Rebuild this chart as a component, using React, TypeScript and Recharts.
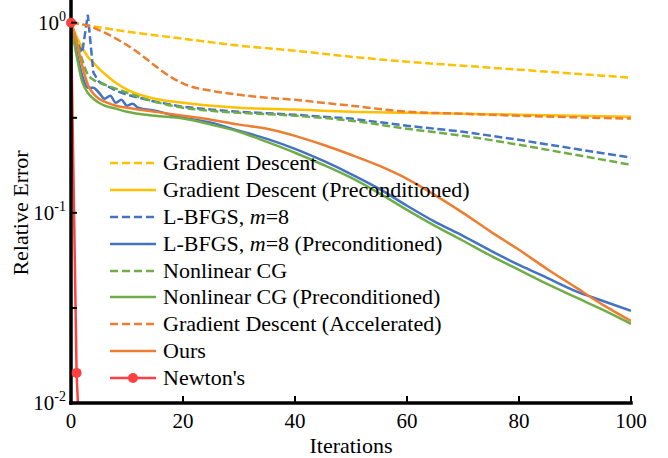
import React from 'react';
import { LineChart, Line, XAxis, YAxis, Legend } from 'recharts';

// ---- data (iterations and relative error) ----
const GD_X = [0, 5, 10, 20, 30, 40, 50, 60, 70, 80, 90, 100];
const GD_Y = [1, 0.945, 0.897, 0.824, 0.757, 0.712, 0.662, 0.623, 0.594, 0.566, 0.539, 0.514];

const GDP_X = [0, 1, 2, 3, 4, 5, 6, 8, 10, 15, 20, 25, 30, 40, 50, 60, 70, 80, 90, 100];
const GDP_Y = [1, 0.844, 0.739, 0.662, 0.616, 0.573, 0.539, 0.483, 0.444, 0.398, 0.379, 0.366, 0.357, 0.349, 0.34, 0.336, 0.332, 0.328, 0.324, 0.32];

const LB_X = [0, 1, 2, 3, 4, 5, 6, 8, 10, 15, 20, 25, 30, 40, 50, 60, 70, 80, 90, 100];
const LB_Y = [1, 0.794, 0.695, 1.1, 0.546, 0.489, 0.472, 0.439, 0.418, 0.384, 0.361, 0.349, 0.34, 0.328, 0.313, 0.287, 0.267, 0.242, 0.217, 0.195];

const LBP_X = [0, 1, 2, 3, 4, 5, 6, 7, 8, 9, 10, 11, 12, 15, 20, 25, 30, 35, 40, 45, 50, 55, 60, 65, 70, 75, 80, 85, 90, 95, 100];
const LBP_Y = [1, 0.704, 0.526, 0.455, 0.455, 0.428, 0.398, 0.413, 0.379, 0.393, 0.366, 0.375, 0.357, 0.344, 0.316, 0.298, 0.27, 0.245, 0.217, 0.188, 0.16, 0.134, 0.109, 0.0897, 0.0757, 0.0631, 0.0532, 0.0455, 0.0389, 0.0344, 0.0305];

const NCG_X = [0, 1, 2, 3, 4, 5, 6, 8, 10, 15, 20, 25, 30, 40, 50, 60, 70, 80, 90, 100];
const NCG_Y = [1, 0.794, 0.639, 0.533, 0.501, 0.483, 0.472, 0.45, 0.428, 0.384, 0.357, 0.344, 0.336, 0.324, 0.305, 0.277, 0.254, 0.228, 0.202, 0.179];

const NCGP_X = [0, 1, 2, 3, 4, 5, 6, 8, 10, 15, 20, 25, 30, 35, 40, 45, 50, 55, 60, 65, 70, 75, 80, 85, 90, 95, 100];
const NCGP_Y = [1, 0.67, 0.489, 0.428, 0.398, 0.379, 0.366, 0.353, 0.34, 0.324, 0.313, 0.291, 0.267, 0.236, 0.207, 0.179, 0.153, 0.127, 0.1037, 0.0854, 0.0713, 0.0594, 0.0501, 0.0423, 0.0361, 0.0309, 0.0261];

const GDA_X = [0, 3, 6, 9, 12, 15, 18, 21, 25, 30, 35, 40, 45, 50, 60, 70, 80, 90, 100];
const GDA_Y = [1, 0.964, 0.886, 0.794, 0.695, 0.594, 0.514, 0.466, 0.439, 0.418, 0.403, 0.393, 0.379, 0.366, 0.34, 0.332, 0.324, 0.318, 0.313];

const OURS_X = [0, 1, 2, 3, 4, 5, 6, 8, 10, 15, 20, 25, 30, 35, 40, 45, 50, 55, 60, 65, 70, 75, 80, 85, 90, 95, 100];
const OURS_Y = [1, 0.794, 0.594, 0.472, 0.423, 0.398, 0.384, 0.366, 0.357, 0.34, 0.324, 0.309, 0.291, 0.277, 0.254, 0.228, 0.202, 0.177, 0.151, 0.124, 0.1, 0.0794, 0.0639, 0.0507, 0.0408, 0.0328, 0.027];

const NEWTON_X = [0, 1, 2];
const NEWTON_Y = [1, 0.0144, 0.003];

const X_TICKS = [0, 20, 40, 60, 80, 100];
const Y_TICKS = [0.01, 0.0316, 0.1, 0.316, 1];

const FONT = '"Liberation Serif", "Times New Roman", serif';

const toRows = (xs: number[], ys: number[]) => xs.map((x, i) => ({ x, y: ys[i] }));

type Series = {
  key: string;
  label: React.ReactNode;
  xs: number[];
  ys: number[];
  color: string;
  dashed: boolean;
  curve: 'linear' | 'monotone';
  marker?: boolean;
};

const SERIES: Series[] = [
  { key: 'gd', label: 'Gradient Descent', xs: GD_X, ys: GD_Y, color: '#FFC000', dashed: true, curve: 'monotone' },
  { key: 'gdp', label: 'Gradient Descent (Preconditioned)', xs: GDP_X, ys: GDP_Y, color: '#FFC000', dashed: false, curve: 'monotone' },
  { key: 'lb', label: <>L-BFGS, <i>m</i>=8</>, xs: LB_X, ys: LB_Y, color: '#4472C4', dashed: true, curve: 'linear' },
  { key: 'lbp', label: <>L-BFGS, <i>m</i>=8 (Preconditioned)</>, xs: LBP_X, ys: LBP_Y, color: '#4472C4', dashed: false, curve: 'monotone' },
  { key: 'ncg', label: 'Nonlinear CG', xs: NCG_X, ys: NCG_Y, color: '#70AD47', dashed: true, curve: 'monotone' },
  { key: 'ncgp', label: 'Nonlinear CG (Preconditioned)', xs: NCGP_X, ys: NCGP_Y, color: '#70AD47', dashed: false, curve: 'monotone' },
  { key: 'gda', label: 'Gradient Descent (Accelerated)', xs: GDA_X, ys: GDA_Y, color: '#ED7D31', dashed: true, curve: 'monotone' },
  { key: 'ours', label: 'Ours', xs: OURS_X, ys: OURS_Y, color: '#ED7D31', dashed: false, curve: 'monotone' },
  { key: 'newton', label: "Newton's", xs: NEWTON_X, ys: NEWTON_Y, color: '#FF4040', dashed: false, curve: 'linear', marker: true },
];

const DASH = '8 3.5';

const XTick = (props: any) => {
  const { x, y, payload } = props;
  return (
    <g>
      <line x1={x} y1={y} x2={x} y2={y - 7} stroke="#000" strokeWidth={2} />
      <text x={x} y={y + 25} textAnchor="middle" fontSize={21} fontFamily={FONT} fill="#000">
        {payload.value}
      </text>
    </g>
  );
};

const YTick = (props: any) => {
  const { x, y, payload } = props;
  const lg = Math.log10(payload.value);
  const exp = Math.round(lg);
  const isMajor = Math.abs(lg - exp) < 0.01;
  return (
    <g>
      <line x1={x} y1={y} x2={x + 6} y2={y} stroke="#000" strokeWidth={2} />
      {isMajor && (
        <text x={x - 5} y={y + 7} textAnchor="end" fontSize={21} fontFamily={FONT} fill="#000">
          10<tspan dy={-9} fontSize={14}>{exp === 0 ? '0' : '-' + Math.abs(exp)}</tspan>
        </text>
      )}
    </g>
  );
};

const LegendContent = () => (
  <div style={{ fontFamily: FONT, fontSize: 22, color: '#000', lineHeight: 1 }}>
    {SERIES.map((s) => (
      <div key={s.key} style={{ display: 'flex', alignItems: 'center', height: 26.9, whiteSpace: 'nowrap' }}>
        <svg width={46} height={12} style={{ marginRight: 7, flex: 'none' }}>
          <line x1={0} y1={6} x2={46} y2={6} stroke={s.color} strokeWidth={2.5} strokeDasharray={s.dashed ? '8 4' : undefined} />
          {s.marker && <circle cx={23} cy={6} r={5} fill={s.color} />}
        </svg>
        <span>{s.label}</span>
      </div>
    ))}
  </div>
);

export default function App() {
  return (
    <div style={{ position: 'absolute', left: 0, top: 0, width: 668, height: 458, background: '#fff' }}>
      <LineChart width={668} height={458} margin={{ top: 1, right: 37, bottom: 25, left: 11 }}>
        <XAxis
          type="number"
          dataKey="x"
          domain={[0, 100]}
          ticks={X_TICKS}
          allowDataOverflow
          height={30}
          tickSize={0}
          tickMargin={0}
          tickLine={false}
          tick={(p: any) => <XTick {...p} />}
          axisLine={{ stroke: '#000', strokeWidth: 3.5, strokeLinecap: 'square' }}
          interval={0}
        />
        <YAxis
          type="number"
          dataKey="y"
          scale="log"
          domain={[0.01, 1.3]}
          ticks={Y_TICKS}
          allowDataOverflow
          width={60}
          tickSize={0}
          tickMargin={0}
          tickLine={false}
          tick={(p: any) => <YTick {...p} />}
          axisLine={{ stroke: '#000', strokeWidth: 3.5, strokeLinecap: 'square' }}
          interval={0}
        />
        <Legend
          layout="vertical"
          align="center"
          verticalAlign="middle"
          content={() => <LegendContent />}
          wrapperStyle={{ position: 'absolute', left: 110, top: 149.5, width: 'auto' }}
        />
        {SERIES.map((s) => (
          <Line
            key={s.key}
            name={s.key}
            data={toRows(s.xs, s.ys)}
            dataKey="y"
            type={s.curve}
            stroke={s.color}
            strokeWidth={2.5}
            strokeDasharray={s.dashed ? DASH : undefined}
            dot={s.marker ? { r: 5, fill: s.color, stroke: 'none', clipDot: false } : false}
            activeDot={false}
            isAnimationActive={false}
          />
        ))}
      </LineChart>
      <svg width={668} height={458} style={{ position: 'absolute', left: 0, top: 0, pointerEvents: 'none' }}>
        <text x={351} y={453} textAnchor="middle" fontSize={22} fontFamily={FONT} fill="#000">
          Iterations
        </text>
        <text x={28} y={213} textAnchor="middle" fontSize={22} fontFamily={FONT} fill="#000" transform="rotate(-90, 28, 213)">
          Relative Error
        </text>
      </svg>
    </div>
  );
}
